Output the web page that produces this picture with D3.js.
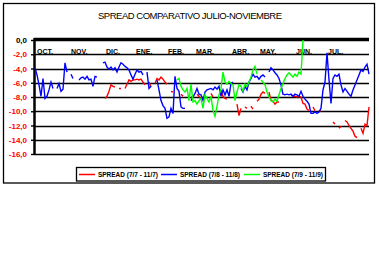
<!DOCTYPE html>
<html>
<head>
<meta charset="utf-8">
<script src="https://cdn.jsdelivr.net/npm/d3@7"></script>
<style>
  body { margin: 0; background: #fff; }
  svg { display: block; font-family: Arial, "Liberation Sans", sans-serif; }
</style>
</head>
<body>
<svg id="chart" width="379" height="279"></svg>
<script>
// ---- data ----
var title = "SPREAD COMPARATIVO JULIO-NOVIEMBRE";
var yTicks = [0, -2, -4, -6, -8, -10, -12, -14, -16];
var months = ["OCT.", "NOV.", "DIC.", "ENE.", "FEB.", "MAR.", "ABR.", "MAY.", "JUN.", "JUL."];
var monthPos = [1, 18, 35.5, 50.5, 66.5, 80.5, 98.5, 112.5, 130.5, 146.5];
var seriesNames = ["SPREAD (7/7 - 11/7)", "SPREAD (7/8 - 11/8)", "SPREAD (7/9 - 11/9)"];
var seriesColors = ["#ff0000", "#0000ff", "#00ff00"];
var _ = null;

var spread77 = [
  _,_,_,_,_,_,_,_,_,_, _,_,_,_,_,_,_,_,_,_, _,_,_,_,_,_,_,_,_,_, _,_,_,_,_,
  -8.2,-7.9,-7.2,-6.3,-6.5,-6.6,_,-6.8,-6.8,_, -6.8,-6.2,-5.6,-5.8,-5.6,-5.6,-5.5,-5.6,-5.5,-5.9,
  -6.3,_,-5.9,-6.6,_,-6.1,-5.4,-5.6,-5.2,-5.5, -5.9,-6.2,_,-7.2,-7.3,_,-6.8,_,-7.6,-7.9,
  _,_,_,-8.0,-8.0,_,-7.6,-7.9,-8.3,-8.2, _,_,_,-7.5,-8.0,_,_,_,-7.0,-7.9,
  -8.2,-8.3,_,_,_,_,-9.0,-10.6,-9.6,_, -9.4,-9.6,_,-9.3,-9.7,_,-8.6,-8.3,-7.6,-7.3,
  -7.5,_,-7.3,-8.5,-8.6,-9.0,-8.7,-8.7,_,_, _,_,_,-7.7,-7.9,-7.9,-8.0,-7.9,-8.0,-8.9,
  -9.0,-9.7,-9.9,_,-9.4,-9.9,_,-10.0,-9.9,_, _,_,_,_,-11.5,-11.8,_,-12.4,-12.1,_,
  -11.3,-11.5,-12.0,-12.4,-12.8,-13.5,-13.7,_,-12.4,-13.1, -11.8,-12.0,-9.4
];

var spread78 = [
  -3.9,-4.9,-6.3,-7.9,-5.4,-8.2,-7.9,-7.0,-5.9,-6.8, _,-6.8,-6.1,-7.2,-6.9,-3.2,-4.5,_,-4.8,-5.4,
  _,_,-5.6,-5.3,-5.2,-5.5,-5.1,-5.6,-5.5,-6.5, -5.1,-5.2,_,_,-3.2,-3.1,-3.8,-4.1,-3.8,-4.2,
  -3.9,-4.5,-3.8,-3.2,-3.4,-3.7,-3.9,-4.2,-4.9,-5.5, -4.8,-4.2,-4.5,-4.4,-4.9,_,-4.5,-6.8,-6.5,_,
  _,-5.6,-7.0,-8.5,-9.2,-9.6,-11.0,-10.8,-9.6,-10.3, -5.1,-6.8,-7.2,-9.4,-9.6,-9.6,_,_,-8.5,-8.0,
  -7.5,-6.8,-7.6,-7.7,-8.5,-7.3,-7.0,-6.9,-6.8,-7.0, -6.6,-6.9,-6.5,-7.9,-7.0,-7.7,-7.0,-7.9,-6.1,-5.9,
  _,-7.2,_,-6.8,-7.3,-6.5,-7.0,-5.9,-5.4,-4.8, -5.2,-5.1,-5.5,-5.1,-4.9,-5.2,_,-4.5,-3.9,-4.2,
  -4.6,-4.9,-5.4,-6.3,-7.6,-7.7,-7.6,-7.7,-7.6,-7.9, -7.6,-7.7,-7.9,-7.2,-7.9,-8.3,-8.6,-9.0,-10.3,-10.3,
  -10.1,-10.3,-10.1,-9.6,-7.0,-5.9,-1.8,-5.6,-8.9,-5.4, -4.9,-5.1,-4.8,-6.3,-7.3,-6.8,-7.2,-7.6,-7.9,-7.0,
  -6.3,-5.6,-4.9,-4.2,-4.4,-3.8,-3.4,-4.8
];

var spread79 = [
  _,_,_,_,_,_,_,_,_,_, _,_,_,_,_,_,_,_,_,_, _,_,_,_,_,_,_,_,_,_, _,_,_,_,_,_,_,_,_,_,
  _,_,_,_,_,_,_,_,_,_, _,_,_,_,_,_,_,_,_,_, _,_,_,_,_,_,_,_,_,_, _,
  -5.6,-5.4,-6.5,-7.0,-7.3,-6.8,-8.5,-6.2,-8.7, -8.5,-9.0,-8.5,-8.2,-9.6,-7.7,-8.2,-8.7,-7.9,-9.9,
  -10.7,-9.3,-7.7,-6.8,-4.5,-5.9,-6.2,-5.8,-6.1,-6.3, -8.5,-7.3,-6.3,-6.5,-7.2,-6.2,-6.5,-5.9,-5.2,-4.2,
  -3.7,-4.8,_,-5.6,-5.9,-6.3,-7.3,-8.0,-8.5,-8.7, -8.3,-8.6,-7.7,-6.8,-6.1,-5.4,-4.9,-4.6,-4.9,-5.2,
  -4.8,-5.1,-4.5,-4.8,0.0
];

var series = [spread77, spread78, spread79];

// ---- layout ----
var svg = d3.select("#chart");
var plot = { left: 35, right: 369, top: 40, bottom: 154 };

var x = d3.scaleLinear().domain([0, 167]).range([plot.left, plot.right]);
var y = d3.scaleLinear().domain([-16, 0]).range([plot.bottom, plot.top]);

// outer frame
svg.append("rect")
  .attr("x", 3.5).attr("y", 3.5)
  .attr("width", 371).attr("height", 179.5)
  .attr("fill", "#fff").attr("stroke", "#000").attr("stroke-width", 1.3);

// title
svg.append("text")
  .attr("x", 98).attr("y", 19)
  .attr("textLength", 184).attr("lengthAdjust", "spacing")
  .style("font-size", "9.5px")
  .text(title);

// gridlines
svg.append("g")
  .selectAll("line")
  .data(yTicks.filter(function(d) { return d !== 0; }))
  .join("line")
    .attr("x1", plot.left).attr("x2", plot.right)
    .attr("y1", function(d) { return Math.round(y(d)) + 0.5; })
    .attr("y2", function(d) { return Math.round(y(d)) + 0.5; })
    .attr("stroke", "#000").attr("stroke-width", 1.4);

// y axis with labels
var yAxis = d3.axisLeft(y)
  .tickValues(yTicks)
  .tickSize(4)
  .tickPadding(4)
  .tickFormat(function(d) { return d3.format(".1f")(d).replace(".", ",").replace("−", "-"); });

var gy = svg.append("g")
  .attr("transform", "translate(" + plot.left + ",0)")
  .call(yAxis);
gy.select(".domain").remove();
gy.selectAll(".tick line").attr("stroke", "#000").attr("stroke-width", 1.4);
gy.selectAll(".tick text")
  .attr("fill", function(d) { return d < 0 ? "#ff0000" : "#000"; })
  .style("font-size", "8px").style("font-weight", "bold")
  .style("font-family", "Arial, 'Liberation Sans', sans-serif");

// thick top line and left axis
svg.append("line")
  .attr("x1", plot.left - 1).attr("x2", plot.right)
  .attr("y1", plot.top - 0.5).attr("y2", plot.top - 0.5)
  .attr("stroke", "#000").attr("stroke-width", 3.5);
svg.append("line")
  .attr("x1", plot.left - 0.5).attr("x2", plot.left - 0.5)
  .attr("y1", plot.top - 2).attr("y2", plot.bottom + 1)
  .attr("stroke", "#000").attr("stroke-width", 2.5);

// month labels
svg.append("g")
  .selectAll("text")
  .data(months)
  .join("text")
    .attr("x", function(d, i) { return x(monthPos[i]); })
    .attr("y", 54)
    .style("font-size", "7px").style("font-weight", "bold")
    .text(function(d) { return d; });

// series lines
var line = d3.line()
  .defined(function(d) { return d !== null; })
  .x(function(d, i) { return x(i); })
  .y(function(d) { return y(d); });

svg.append("g")
  .selectAll("path")
  .data(series)
  .join("path")
    .attr("d", line)
    .attr("fill", "none")
    .attr("stroke", function(d, i) { return seriesColors[i]; })
    .attr("stroke-width", 1.4)
    .attr("stroke-linejoin", "miter");

// legend
var legend = svg.append("g");
legend.append("rect")
  .attr("x", 76.5).attr("y", 167.5)
  .attr("width", 249).attr("height", 13.5)
  .attr("fill", "#fff").attr("stroke", "#000").attr("stroke-width", 1.3);

var legX = [79, 161, 244];
var items = legend.selectAll("g.item")
  .data(seriesNames)
  .join("g")
    .attr("class", "item")
    .attr("transform", function(d, i) { return "translate(" + legX[i] + ",174.5)"; });
items.append("line")
  .attr("x1", 0).attr("x2", 16)
  .attr("stroke", function(d, i) { return seriesColors[i]; })
  .attr("stroke-width", 1.5);
items.append("text")
  .attr("x", 19).attr("y", 2.5)
  .attr("textLength", 60).attr("lengthAdjust", "spacingAndGlyphs")
  .style("font-size", "7px").style("font-weight", "bold")
  .text(function(d) { return d; });
</script>
</body>
</html>
